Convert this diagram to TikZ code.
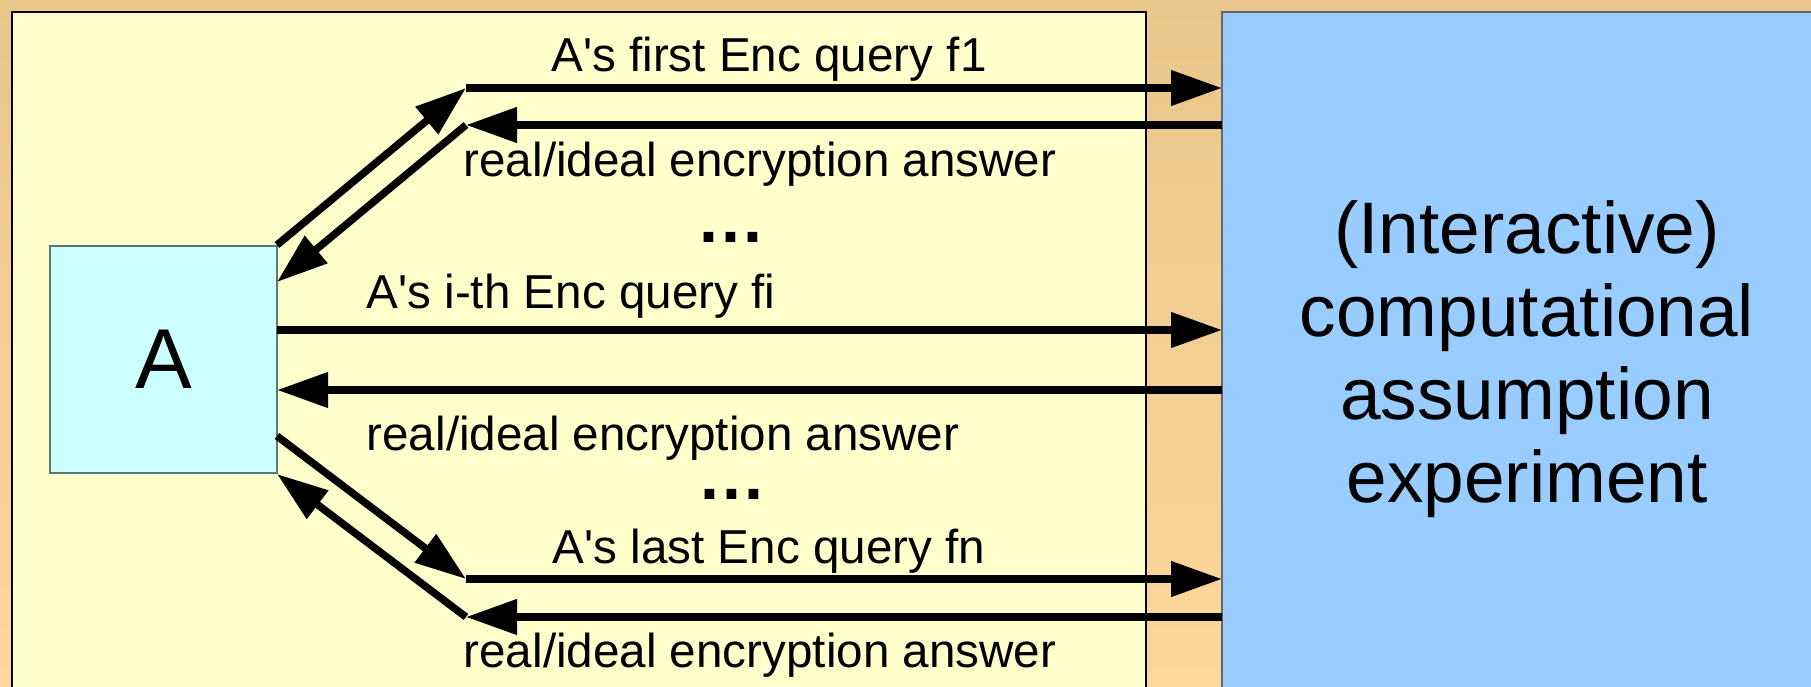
\documentclass[tikz,border=0pt]{standalone}
\usepackage{fontspec}
\setmainfont{Liberation Sans}
\newfontfamily\lblfont[Ligatures=NoCommon]{Liberation Sans}
\usetikzlibrary{arrows.meta}
\definecolor{bgtop}{RGB}{233,198,139}
\definecolor{bgbot}{RGB}{252,215,156}
\definecolor{panelfill}{HTML}{FFFFCC}
\definecolor{expfill}{HTML}{99CCFF}
\definecolor{afill}{HTML}{CCFFFF}
\definecolor{aborder}{HTML}{5A7676}
\newcommand{\mydots}{.\kern3.5pt.\kern3.5pt.}
\tikzset{
  msg/.style={line width=7.5pt, -{Triangle[length=51pt,width=34pt]}},
  lbl/.style={anchor=base, inner sep=0pt, font=\lblfont\fontsize{47.6}{56}\selectfont},
  dotsty/.style={anchor=base, inner sep=0pt, font=\bfseries\fontsize{68}{70}\selectfont},
  areabox/.style={anchor=north west, inner sep=0pt, outer sep=0pt},
}
\begin{document}
\begin{tikzpicture}[x=1pt,y=-1pt]
\useasboundingbox (0,0) rectangle (1811,687);
\clip (0,0) rectangle (1811,687);
\shade[top color=bgtop,bottom color=bgbot] (0,0) rectangle (1811,687);

\node[areabox, draw=black, line width=1.3pt, fill=panelfill,
      minimum width=1134pt, minimum height=720pt] (panel) at (12,12) {};
\node[areabox, draw=black!60, line width=1.5pt, fill=expfill,
      minimum width=640pt, minimum height=720pt] (exp) at (1222,12) {};
\node[draw=aborder, line width=1.3pt, fill=afill, inner sep=0pt, outer sep=0pt,
      minimum width=227pt, minimum height=227pt,
      font=\fontsize{85}{90}\selectfont] (A) at (163.5,359.5) {A};

% anchor=base of a multi-line node is the baseline of its last line
\node[anchor=base, align=center, inner sep=0pt, font=\fontsize{73}{83}\selectfont]
  (exptext) at (1527,502) {(Interactive)\\computational\\assumption\\experiment};

% connector end points
\coordinate (d1) at (466,88);
\coordinate (d2) at (466,125);
\coordinate (d3) at (466,579);
\coordinate (d4) at (466,617);
\coordinate (a1) at (277,245);
\coordinate (a2) at (277,282);
\coordinate (a3) at (277,436);
\coordinate (a4) at (277,474);
\coordinate (fi) at (277,330);
\coordinate (ai) at (277,390);

\draw[msg] (a1) -- (d1);
\draw[msg] (d1) -- (d1 -| exp.west);
\draw[msg] (d2 -| exp.west) -- (d2);
\draw[msg] (d2) -- (a2);

\draw[msg] (fi) -- (fi -| exp.west);
\draw[msg] (ai -| exp.west) -- (ai);

\draw[msg] (a3) -- (d3);
\draw[msg] (d3) -- (d3 -| exp.west);
\draw[msg] (d4 -| exp.west) -- (d4);
\draw[msg] (d4) -- (a4);

% labels
\node[lbl] (l1) at (769,72) {A\textquotesingle s first Enc query f1};
\node[lbl] (l2) at (760,177) {real/ideal encryption answer};
\node[dotsty] (dots1) at (731,242) {\mydots};
\node[lbl] (l3) at (571,308) {A\textquotesingle s i-th Enc query fi};
\node[lbl] (l4) at (663,450) {real/ideal encryption answer};
\node[dotsty] (dots2) at (732,499) {\mydots};
\node[lbl] (l5) at (769,563) {A\textquotesingle s last Enc query fn};
\node[lbl] (l6) at (760,667) {real/ideal encryption answer};
\end{tikzpicture}
\end{document}
